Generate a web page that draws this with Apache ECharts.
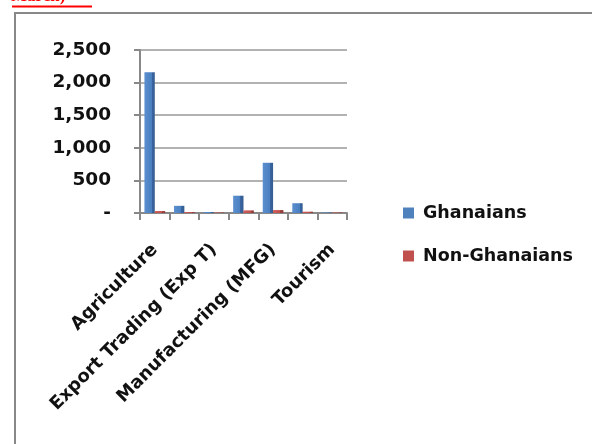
<!DOCTYPE html>
<html>
<head>
<meta charset="utf-8">
<script src="https://cdn.jsdelivr.net/npm/echarts@6/dist/echarts.min.js"></script>
<style>
  html, body { margin: 0; padding: 0; background: #fff; }
  #chart { width: 592px; height: 444px; }
</style>
</head>
<body>
<div id="chart"></div>
<script>
// Business sectors (every other label is shown on the axis)
const sectors = [
  'Agriculture',
  'Building & Construction',
  'Export Trading (Exp T)',
  'General Trading',
  'Manufacturing (MFG)',
  'Service',
  'Tourism'
];
const ghanaians    = [2160, 110, 15, 265, 770, 150, 8];
const nonGhanaians = [30, 15, 8, 40, 45, 20, 8];
const yTicks = [0, 500, 1000, 1500, 2000, 2500];

const labelFont = '"DejaVu Sans", sans-serif';
const blue = '#4f81bd';
const red = '#c0504d';

const chart = echarts.init(document.getElementById('chart'));
chart.setOption({
  animation: false,
  backgroundColor: '#fff',
  graphic: [
    // frame around the chart area
    { type: 'line', shape: { x1: 15, y1: 13, x2: 592, y2: 13 }, style: { stroke: '#888', lineWidth: 2 } },
    { type: 'line', shape: { x1: 15, y1: 12, x2: 15, y2: 444 }, style: { stroke: '#888', lineWidth: 2 } },
    // heading text above the frame
    { type: 'text', left: 11, top: -12, style: { text: 'March)', fill: '#ff0000', font: 'bold 17px "Liberation Serif", serif' } },
    { type: 'line', shape: { x1: 12, y1: 6.5, x2: 92, y2: 6.5 }, style: { stroke: '#ff0000', lineWidth: 2 } }
  ],
  legend: {
    orient: 'vertical',
    left: 398,
    top: 199,
    itemGap: 25,
    itemWidth: 11,
    itemHeight: 11,
    icon: 'rect',
    textStyle: { fontFamily: labelFont, fontWeight: 'bold', fontSize: 17.5, color: '#111', padding: [0, 0, 0, 4] },
    data: [
      { name: 'Ghanaians', itemStyle: { color: blue } },
      { name: 'Non-Ghanaians', itemStyle: { color: red } }
    ]
  },
  grid: { left: 140, right: 245, top: 50, bottom: 231, containLabel: false },
  xAxis: {
    type: 'category',
    data: sectors,
    axisLine: { lineStyle: { color: '#888', width: 2 } },
    axisTick: { show: true, length: 7, interval: 0, lineStyle: { color: '#888', width: 2 } },
    axisLabel: {
      interval: 1,
      rotate: 45,
      margin: 34,
      fontFamily: labelFont,
      fontWeight: 'bold',
      fontSize: 18,
      color: '#111'
    }
  },
  yAxis: {
    type: 'value',
    min: 0,
    max: 2500,
    interval: 500,
    axisLine: { show: true, lineStyle: { color: '#888', width: 2 } },
    axisTick: { show: true, length: 6, lineStyle: { color: '#888', width: 2 } },
    splitLine: { lineStyle: { color: '#999', width: 1.5 } },
    axisLabel: {
      margin: 29,
      fontFamily: labelFont,
      fontWeight: 'bold',
      fontSize: 18.5,
      color: '#111',
      formatter: v => (v === 0 ? '-' : v.toLocaleString('en-US'))
    }
  },
  series: [
    {
      name: 'Ghanaians',
      type: 'bar',
      data: ghanaians,
      barGap: '0%',
      barCategoryGap: '30%',
      itemStyle: {
        color: new echarts.graphic.LinearGradient(0, 0, 1, 0, [
          { offset: 0, color: '#5b8fd0' },
          { offset: 0.7, color: '#4a7fc0' },
          { offset: 0.71, color: '#3a65a0' },
          { offset: 1, color: '#345c92' }
        ])
      }
    },
    {
      name: 'Non-Ghanaians',
      type: 'bar',
      data: nonGhanaians,
      itemStyle: {
        color: new echarts.graphic.LinearGradient(0, 0, 1, 0, [
          { offset: 0, color: '#d05a56' },
          { offset: 0.7, color: '#c0504d' },
          { offset: 0.71, color: '#9c3f3c' },
          { offset: 1, color: '#913a38' }
        ])
      }
    }
  ],
  color: [blue, red]
});
</script>
</body>
</html>
